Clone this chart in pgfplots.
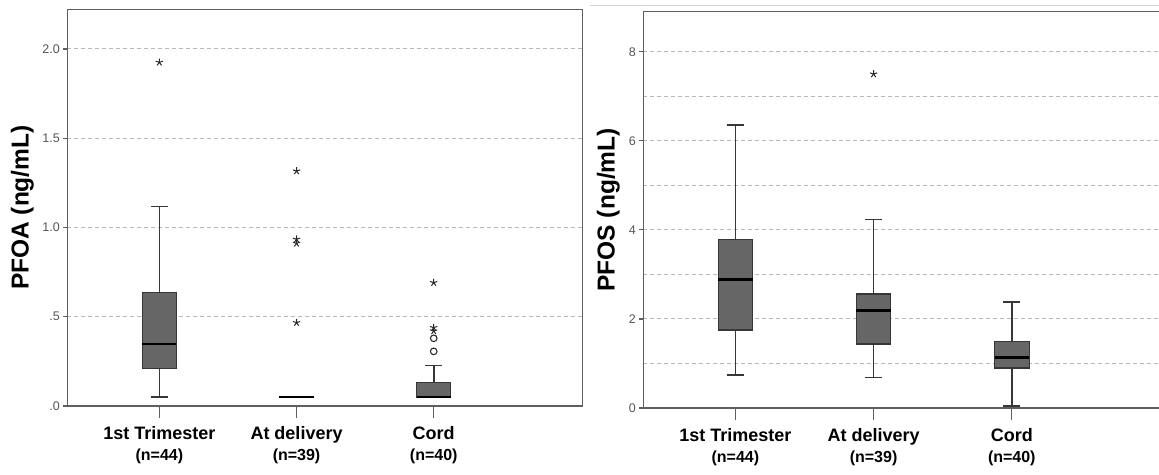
\documentclass[border=0pt]{standalone}
\usepackage{pgfplots}
\pgfplotsset{compat=1.18}
\usepgfplotslibrary{statistics}
\usepackage{fontspec}
\setmainfont{Liberation Sans}
\definecolor{boxgray}{RGB}{102,102,102}
\definecolor{edgegray}{RGB}{55,55,55}
\definecolor{axgray}{RGB}{95,95,95}
\definecolor{gridgray}{RGB}{185,185,185}
\definecolor{tickgray}{RGB}{85,85,85}
\definecolor{markgray}{RGB}{40,40,40}

\pgfplotsset{
  spss/.style={
    scale only axis, width=515.4pt,
    ymin=0,
    xtick=\empty,
    extra x ticks={1,2,3},
    extra x tick labels={{1st Trimester\\[2pt]{\fontsize{16}{17}\selectfont(n=44)}},{At delivery\\[2pt]{\fontsize{16}{17}\selectfont(n=39)}},{Cord\\[2pt]{\fontsize{16}{17}\selectfont(n=40)}}},
    extra x tick style={major tick length=12pt, tick align=outside,
      xticklabel style={font=\bfseries\fontsize{18}{19}\selectfont, align=center, text=black, yshift=-5pt},
      xtick style={axgray, line width=1.4pt}, grid=none},
    yticklabel style={font=\fontsize{12.5}{13}\selectfont, text=tickgray},
    tick align=outside,
    major tick length=4pt,
    minor tick length=0pt,
    ytick style={axgray, line width=1.2pt},
    axis line style={axgray, line width=1.3pt},
    ymajorgrids,
    major grid style={gridgray, dash pattern=on 4pt off 3pt, line width=1pt},
    minor grid style={gridgray, dash pattern=on 4pt off 3pt, line width=1pt},
    clip=false,
    boxplot/draw direction=y,
    boxplot/box extend=0.25,
    boxplot/whisker extend=0.125,
    boxplot/every box/.style={fill=boxgray, draw=edgegray, line width=1.1pt},
    boxplot/every whisker/.style={draw=edgegray, line width=1.6pt},
    boxplot/every median/.style={draw=black, line width=2.6pt},
    boxplot/every average/.style={draw=none},
  },
  star/.style={only marks, mark=star, mark size=3.8pt, mark options={draw=markgray, line width=1pt}},
  circ/.style={only marks, mark=o, mark size=3.3pt, mark options={draw=markgray, line width=1.1pt}},
}

\begin{document}
\begin{tikzpicture}
\useasboundingbox (0,0) rectangle (1159pt,474pt);
% ---------- PFOA ----------
\begin{axis}[spss,
  at={(67.3pt,68pt)}, anchor=south west,
  height=396.7pt,
  xmin=0.329, xmax=4.086,
  ymax=2.222,
  tick pos=left,
  ytick={0,0.5,1,1.5,2},
  yticklabels={{\mbox{.0}},{\mbox{.5}},{\mbox{1.0}},{\mbox{1.5}},{\mbox{2.0}}},
  ylabel={PFOA (ng/mL)},
  ylabel style={font=\bfseries\fontsize{24.5}{25}\selectfont, at={(axis description cs:-0.0873,0.5)}, anchor=center},
]
\addplot[boxplot prepared={draw position=1, lower whisker=0.05, lower quartile=0.209, median=0.347, upper quartile=0.635, upper whisker=1.117}] coordinates {};
\addplot[boxplot prepared={draw position=2, lower whisker=0.05, lower quartile=0.05, median=0.05, upper quartile=0.05, upper whisker=0.05}] coordinates {};
\addplot[boxplot prepared={draw position=3, lower whisker=0.05, lower quartile=0.05, median=0.05, upper quartile=0.131, upper whisker=0.226}] coordinates {};
\addplot[star] coordinates {(1,1.925)};
\addplot[star] coordinates {(2,1.316) (2,0.934) (2,0.911) (2,0.467)};
\addplot[star] coordinates {(3,0.691) (3,0.439) (3,0.420)};
\addplot[circ] coordinates {(3,0.379) (3,0.306)};
\end{axis}
% ---------- PFOS ----------
\begin{axis}[spss,
  at={(643.3pt,66pt)}, anchor=south west,
  height=396.3pt,
  xmin=0.334, xmax=4.063,
  ymax=8.9,
  axis x line*=bottom, axis y line*=left,
  ytick={0,2,4,6,8},
  minor ytick={1,3,5,7},
  yminorgrids,
  yticklabels={{\mbox{0}},{\mbox{2}},{\mbox{4}},{\mbox{6}},{\mbox{8}}},
  ylabel={PFOS (ng/mL)},
  ylabel style={font=\bfseries\fontsize{24.5}{25}\selectfont, at={(axis description cs:-0.068,0.5)}, anchor=center},
]
\addplot[boxplot prepared={draw position=1, lower whisker=0.741, lower quartile=1.751, median=2.889, upper quartile=3.787, upper whisker=6.355}] coordinates {};
\addplot[boxplot prepared={draw position=2, lower whisker=0.681, lower quartile=1.437, median=2.193, upper quartile=2.560, upper whisker=4.229}] coordinates {};
\addplot[boxplot prepared={draw position=3, lower whisker=0.045, lower quartile=0.898, median=1.130, upper quartile=1.490, upper whisker=2.380}] coordinates {};
\addplot[star] coordinates {(2,7.50)};
\draw[axgray, line width=1.3pt] (rel axis cs:0,1) -- (rel axis cs:1,1);
\end{axis}
\draw[gray!35, line width=0.8pt] (590pt,469pt) -- (1159pt,469pt);
\end{tikzpicture}
\end{document}
